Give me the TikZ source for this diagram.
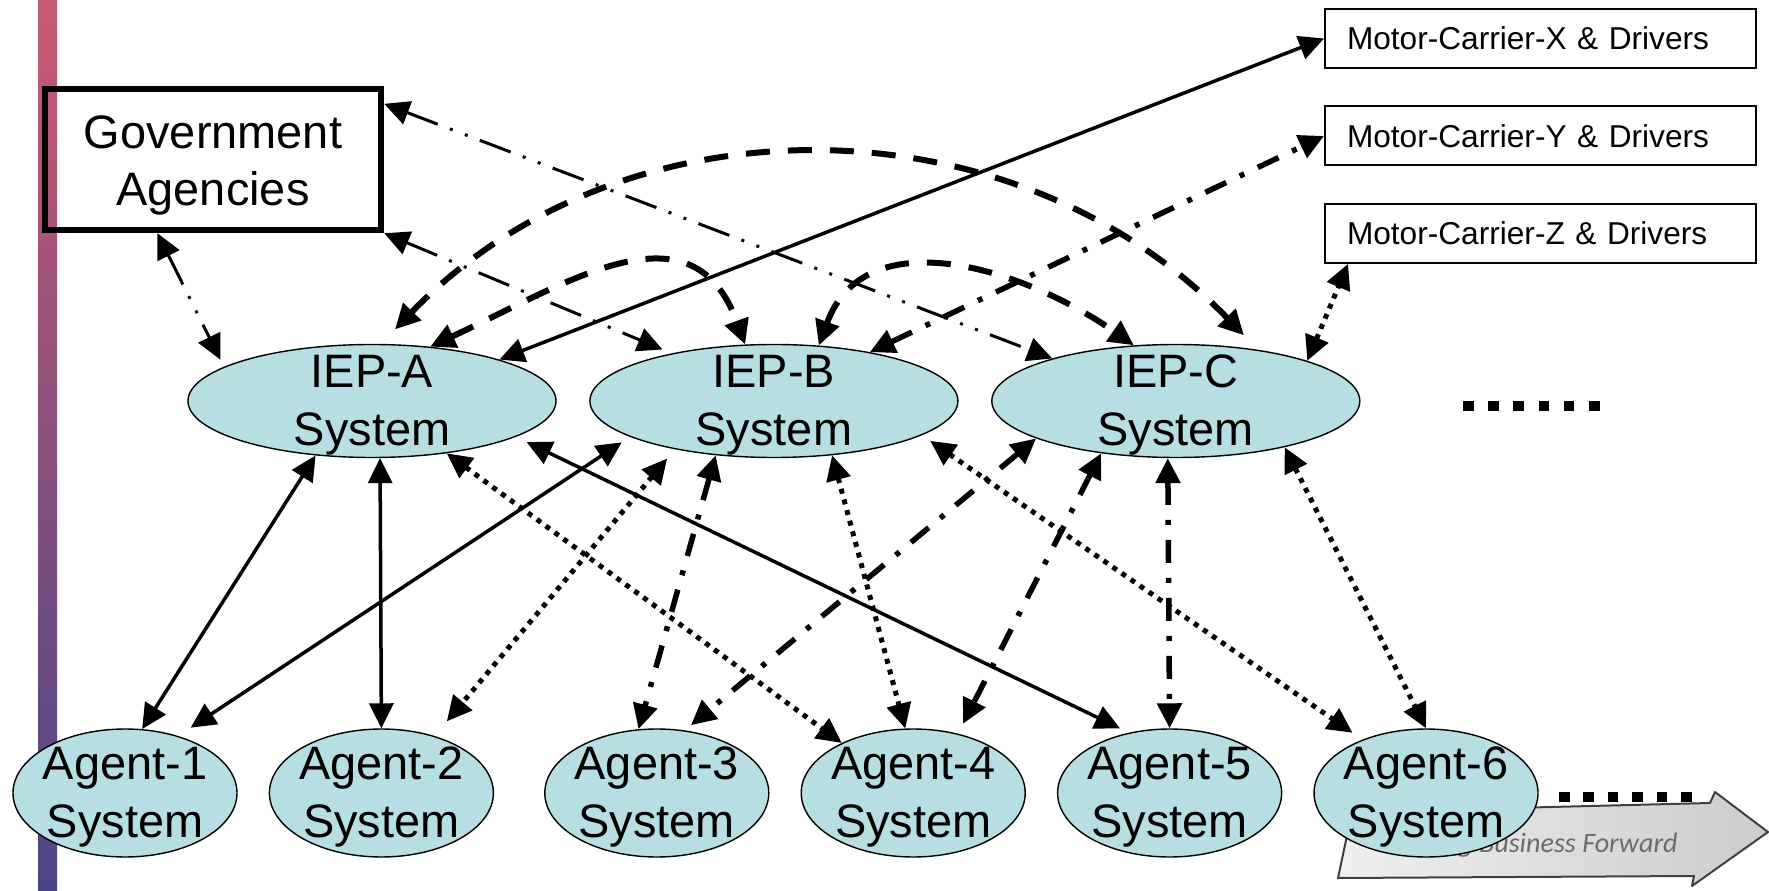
\documentclass[tikz,border=0pt]{standalone}
\usepackage{fontspec}
\setmainfont{Liberation Sans}
\newfontfamily\mottofont{Carlito}
\usepackage{tikz}
\usetikzlibrary{positioning,shapes.geometric,arrows.meta}
\definecolor{sysblue}{RGB}{183,222,226}
\definecolor{barTop}{RGB}{200,90,115}
\definecolor{barMid}{RGB}{160,110,175}
\definecolor{barBot}{RGB}{75,70,135}
\newcommand{\bigtext}{\fontsize{26.7}{32.7}\selectfont}
\newcommand{\smalltext}{\fontsize{18}{22}\selectfont}
\newcommand{\sysname}[1]{\rule{0pt}{23pt}#1\\System}
\tikzset{
	sys/.style={ellipse, draw, line width=0.8pt, fill=sysblue, inner sep=-0.3cm, align=center, font=\bigtext},
	iep/.style={sys, minimum width=7.36cm, minimum height=2.26cm},
	agent/.style={sys, minimum width=4.48cm, minimum height=2.56cm},
	carrier/.style={draw, line width=1.1pt, text width=7.74cm, inner xsep=0.44cm, minimum height=1.18cm, align=left, font=\smalltext},
	solidline/.style={line width=0.07cm},
	dashline/.style={line width=0.12cm, dash pattern=on 0.48cm off 0.36cm},
	dotline/.style={line width=0.1cm, dash pattern=on 0.1cm off 0.12cm},
	dashdotline/.style={line width=0.11cm, dash pattern=on 0.46cm off 0.3cm on 0.1cm off 0.3cm},
	ddotline/.style={line width=0.06cm, dash pattern=on 0.66cm off 0.26cm on 0.06cm off 0.26cm on 0.06cm off 0.26cm},
	>={Triangle[length=0.5cm,width=0.48cm]}
}
\begin{document}
\begin{tikzpicture}
	\useasboundingbox (0,0) rectangle (35.38,17.8);
	\shade[top color=barTop, middle color=barMid, bottom color=barBot] (0.76,0) rectangle (1.14,17.8);
	\shadedraw[left color=gray!12, right color=gray!40, draw=black!75, line width=0.04cm, line join=round]
		(26.76,0.24) -- (27.04,1.56) -- (34.2,1.74) -- (34.3,1.96) -- (35.36,1.16) -- (33.84,0.08) -- (33.88,0.28) -- cycle;
	\node[anchor=base east, inner sep=0pt, text=black!58, font=\mottofont\itshape\fontsize{16}{19}\selectfont] (motto) at (33.56,0.76) {g Business Forward};

	\node[draw, line width=0.13cm, minimum width=6.72cm, minimum height=2.82cm, align=center, font=\bigtext] (gov) at (4.26,14.61) {\rule{0pt}{25.5pt}Government\\Agencies};
	\node[carrier] (motorX) at (30.81,17.03) {Motor-Carrier-X \& Drivers};
	\node[carrier, below=0.73cm of motorX] (motorY) {Motor-Carrier-Y \& Drivers};
	\node[carrier, below=0.73cm of motorY] (motorZ) {Motor-Carrier-Z \& Drivers};

	\node[iep] (iepA) at (7.44,9.78) {\sysname{IEP-A}};
	\node[iep, right=0.65cm of iepA] (iepB) {\sysname{IEP-B}};
	\node[iep, right=0.65cm of iepB] (iepC) {\sysname{IEP-C}};

	\node[agent] (agent1) at (2.5,1.94) {\sysname{Agent-1}};
	\node[agent, right=0.62cm of agent1] (agent2) {\sysname{Agent-2}};
	\node[agent, right=1cm of agent2] (agent3) {\sysname{Agent-3}};
	\node[agent, right=0.62cm of agent3] (agent4) {\sysname{Agent-4}};
	\node[agent, right=0.62cm of agent4] (agent5) {\sysname{Agent-5}};
	\node[agent, right=0.62cm of agent5] (agent6) {\sysname{Agent-6}};

	\draw[line width=0.21cm, dash pattern=on 0.21cm off 0.294cm] (29.26,9.68) -- (31.99,9.68);
	\draw[line width=0.21cm, dash pattern=on 0.21cm off 0.278cm] (31.18,1.86) -- (33.83,1.86);

	\path[<->]
	(gov.-127) edge[ddotline, shorten >=0.16cm] (iepA.167)
	(gov.south east) edge[ddotline, shorten >=0.2cm] (iepB.155)
	(gov.18) edge[ddotline] (iepC.161)
	(iepA.18) edge[solidline] (motorX.west)
	(iepB.27) edge[dashdotline] (motorY.west)
	(iepC.17) edge[dotline] (motorZ.189.5)
	(iepA.81) edge[dashline, out=46, in=134, looseness=1.02, shorten <=0.4cm, shorten >=0.4cm] (iepC.32)
	(iepA.43) edge[dashline, out=25, in=110, looseness=1.25] (iepB.117)
	(iepB.51) edge[dashline, out=70, in=145, looseness=1.1] (iepC.127)
	(iepA.-136) edge[solidline] (agent1.75)
	(iepA.-82) edge[solidline] (agent2.north)
	(iepB.-166) edge[solidline, shorten <=0.2cm, shorten >=0.3cm] (agent1.47)
	(iepA.-14) edge[solidline, shorten <=0.24cm, shorten >=0.2cm] (agent5.124)
	(iepA.-35) edge[dotline] (agent4.145)
	(iepB.-154) edge[dotline, shorten <=0.24cm, shorten >=0.38cm] (agent2.47)
	(iepB.-137) edge[dashdotline] (agent3.106)
	(iepB.-43) edge[dotline] (agent4.97)
	(iepB.-13) edge[dotline, shorten <=0.2cm, shorten >=0.24cm] (agent6.140)
	(iepC.-165) edge[dashdotline, shorten >=0.16cm] (agent3.66)
	(iepC.-145) edge[dashdotline, shorten >=0.22cm] (agent4.53)
	(iepC.-98) edge[dashdotline] (agent5.north)
	(iepC.-23) edge[dotline] (agent6.north);
\end{tikzpicture}
\end{document}
